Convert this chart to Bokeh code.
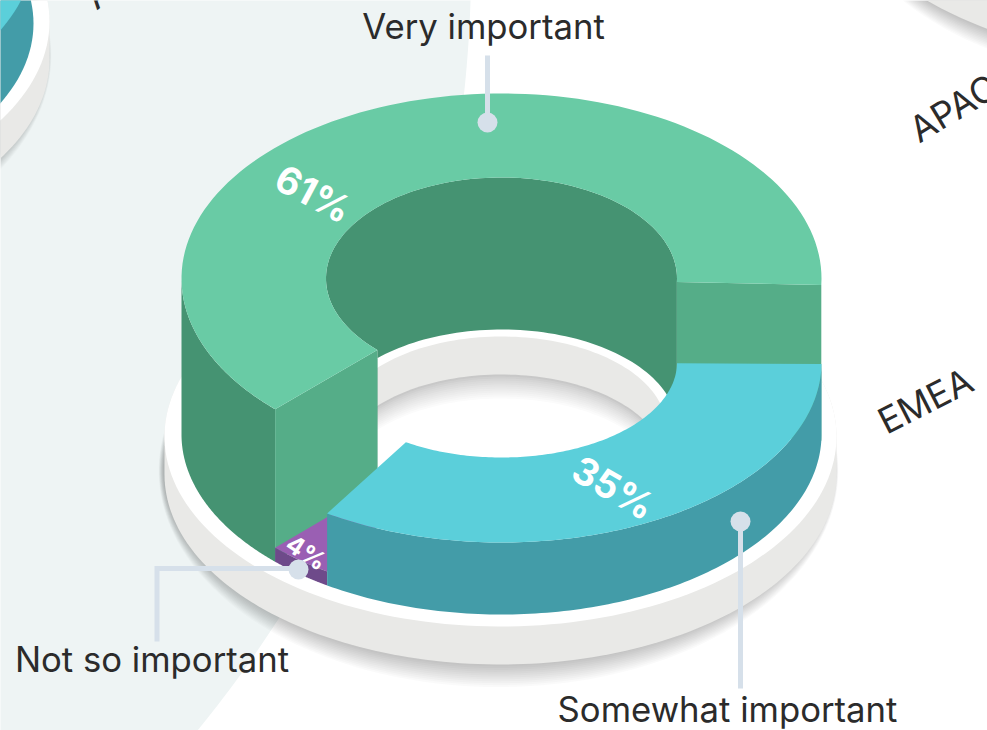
import numpy as np
from bokeh.plotting import figure
from bokeh.embed import file_html
from bokeh.resources import INLINE
from bokeh.core.properties import value

# ---- data ----
categories = ["Very important", "Not so important", "Somewhat important"]
shares = [61, 4, 35]
share_labels = ["61%", "4%", "35%"]
region_labels = ["A", "APAC", "EMEA"]

# ---- layout ----
W, H = 987, 730
FONT = "Inter"
GREEN_TOP, GREEN_DARK, GREEN_CUT = "#69CBA5", "#459372", "#55AD88"
CYAN_TOP, CYAN_SIDE = "#5BCFDA", "#439CA8"
PURPLE_TOP, PURPLE_SIDE = "#9A5FB3", "#6E4A8A"
PLATE_GREY, PALE, LEADER, INK = "#E9E9E7", "#EEF4F4", "#D6E0EA", "#2B2B2B"
CX, BASE_CY, RX, RX_IN = 501, 434, 320, 175.5
BASE_RY, BASE_RY_IN, BASE_CY_IN = 180, 98, 427
# per slice: depth of the block, outer and inner vertical radius of its top
depth = [156, 14, 72]
ry_top = [185, 180, 180]
ry_in = [101, 95, 95]

p = figure(width=W, height=H, x_range=(0, W), y_range=(H, 0), output_backend="svg",
           toolbar_location=None, min_border=0, outline_line_color=None,
           background_fill_color="white", border_fill_color="white")
p.axis.visible = False
p.grid.visible = False


def arc(cx, cy, rx, ry, a0, a1, n=120):
    t = np.radians(np.linspace(a0, a1, n))
    return cx + rx * np.cos(t), cy - ry * np.sin(t)


def poly(*parts, color="#000", alpha=1.0):
    xs = np.concatenate([a[0] for a in parts])
    ys = np.concatenate([a[1] for a in parts])
    p.patch(xs, ys, fill_color=color, fill_alpha=alpha, line_color=None)


def plate_shadow(cx, cy):
    for s in range(14, 0, -1):
        poly(arc(cx - 2, cy + 34, 335 + s * 0.35, 190 + s * 1.9, 0, 360, 180), color="#000", alpha=0.02)


def plate(cx, cy):
    poly(arc(cx, cy + 38, 336, 190, 180, 360), arc(cx, cy, 336, 190, 0, 180), color=PLATE_GREY)
    poly(arc(cx, cy, 336, 190, 0, 360, 200), color="white")


def angle(f):
    # cumulative share to the angle on the tilted disc, with the drawing's perspective correction
    return -1.5 + 360 * f + 14.0 * np.sin(np.pi * f) + 9.88 * np.sin(2 * np.pi * f)


# page backdrop: a very large pale disc
t = np.radians(np.linspace(-70, 70, 300))
bx = -743 + 1213.6 * np.cos(t)
by = -37.6 + 1213.6 * np.sin(t)
p.patch(np.r_[bx, -10, -10], np.r_[by, 800, -100], fill_color=PALE, line_color=None)

# neighbouring charts, cropped by the page
plate_shadow(-287, 21)
plate(-287, 21)
poly(arc(-287, 23, RX, BASE_RY, 0, 360, 200), color=CYAN_SIDE)
poly(arc(-287, -50, RX, BASE_RY, 0, 360, 200), color=CYAN_TOP)
plate_shadow(1170, -169)
plate(1170, -169)

# main plate with its hole
plate_shadow(500, 436)
plate(500, 436)
poly(arc(501, 428, 165, 92, 0, 360, 200), color=PLATE_GREY)
for d in range(0, 26, 2):
    g = int(200 + 55 * min(1.0, (d / 24) ** 0.8))
    poly(arc(501, 466 + d, 165, 92, 0, 360, 200), color=f"#{g:02x}{g:02x}{g:02x}")

cum = np.cumsum([0] + shares) / sum(shares)
edges = [angle(f) for f in cum]
g0, g1 = edges[0] - 0.5, edges[1]
pu0, pu1 = edges[1], edges[2]
c0, c1 = edges[2], edges[3] + 1.0
top = [BASE_CY - d for d in depth]

# green block
poly(arc(CX, top[0], RX_IN, ry_in[0], g0, g1), arc(CX, BASE_CY_IN, RX_IN, BASE_RY_IN, g1, g0), color=GREEN_DARK)
poly(arc(CX, top[0], RX_IN, ry_in[0], g0, g0, 1), arc(CX, top[0], RX, ry_top[0], g0, g0, 1),
     arc(CX, BASE_CY, RX, BASE_RY, g0, g0, 1), arc(CX, BASE_CY_IN, RX_IN, BASE_RY_IN, g0, g0, 1), color=GREEN_CUT)
poly(arc(CX, top[0], RX, ry_top[0], 180, g1), arc(CX, BASE_CY, RX, BASE_RY, g1, 180), color=GREEN_DARK)
poly(arc(CX, top[0], RX, ry_top[0], g1, g1, 1), arc(CX, top[0], RX_IN, ry_in[0], g1, g1, 1),
     arc(CX, BASE_CY_IN, RX_IN, BASE_RY_IN, g1, g1, 1), arc(CX, BASE_CY, RX, BASE_RY, g1, g1, 1), color=GREEN_CUT)
poly(arc(CX, top[0], RX, ry_top[0], g0, g1), arc(CX, top[0], RX_IN, ry_in[0], g1, g0), color=GREEN_TOP)

# purple block
poly(arc(CX, top[1], RX, ry_top[1], pu0, pu1), arc(CX, top[1], RX_IN, ry_in[1], pu1, pu0), color=PURPLE_TOP)
poly(arc(CX, top[1], RX, ry_top[1], pu0, pu1), arc(CX, BASE_CY, RX, BASE_RY, pu1, pu0), color=PURPLE_SIDE)


def pct(i, x, y, size, deg):
    p.text([x], [y], text=[share_labels[i]], text_font=value(FONT), text_font_style="bold",
           text_font_size=f"{size}px", text_color="white", text_align="center", text_baseline="middle",
           angle=np.radians(deg))


pct(1, 306, 552, 25, -33)

# cyan block
poly(arc(CX, top[2], RX, ry_top[2], c0, c1), arc(CX, BASE_CY, RX, BASE_RY, c1, c0), color=CYAN_SIDE)
poly(arc(CX, top[2], RX, ry_top[2], c0, c1), arc(CX, top[2], RX_IN, ry_in[2], c1, c0), color=CYAN_TOP)

pct(0, 313, 193, 38, -28)
pct(2, 613, 487, 38, -30)

# leaders
p.line([487, 487], [55, 122], line_color=LEADER, line_width=5)
p.line([740, 740], [521, 688], line_color=LEADER, line_width=5)
p.line([298, 156.5, 156.5], [568, 568, 641], line_color=LEADER, line_width=5, line_join="miter")
p.circle([487, 740, 298], [122, 521, 569], radius=10, fill_color=LEADER, line_color=None)

# category labels
p.text([483, 151.5, 727], [25.5, 658.5, 708.5], text=categories, text_font=value(FONT), text_font_size="34.7px",
       text_color=INK, text_align="center", text_baseline="middle")

# region labels, rotated
for lab, x, y, deg in zip(region_labels, [88, 912, 880], [0, 132, 423], [38, 31, 27]):
    p.text([x], [y], text=[lab], text_font=value(FONT), text_font_size="36px", text_color=INK,
           text_align="left", text_baseline="middle", angle=np.radians(deg))

open("out.html", "w").write(file_html(p, INLINE))
